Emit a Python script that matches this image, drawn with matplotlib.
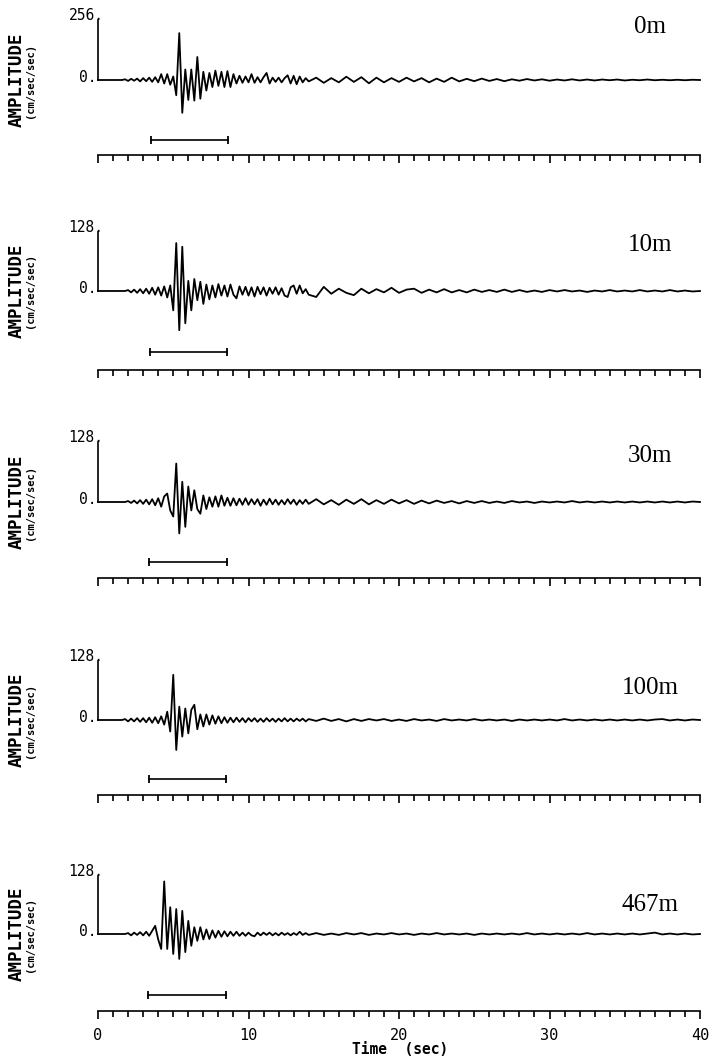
import numpy as np
import matplotlib.pyplot as plt

# -------------------------------
# Data
# -------------------------------
# sample times (sec): dense part of the record and the coda
t_fast = np.round(np.arange(1.6, 14.01, 0.2), 1)   # 63 samples
t_slow = np.arange(14.5, 40.01, 0.5)                # 52 samples

depths = ["0m", "10m", "30m", "100m", "467m"]
full_scale = [256, 128, 128, 128, 128]
bar_start = [3.5, 3.45, 3.4, 3.4, 3.35]
bar_end = [8.65, 8.6, 8.55, 8.5, 8.5]
time_ticks = [0, 10, 20, 30, 40]

amp_0m_fast = [0, 3,
               -4, 5, -3, 6, -6,
               8, -5, 10, -8, 12,
               -10, 25, -15, 25, -20,
               15, -65, 200, -140, 45,
               -85, 45, -88, 98, -80,
               35, -45, 30, -30, 40,
               -25, 35, -30, 38, -30,
               25, -15, 18, -12, 15,
               -10, 25, -12, 12, -10,
               12, 30, -15, 10, -8,
               10, -10, 8, 20, -15,
               18, -18, 15, -10, 8,
               -6]
amp_0m_slow = [10, -12, 8, -10, 14, -8, 12, -14, 10, -10,
               8, -8, 10, -6, 8, -10, 6, -8, 10, -6,
               5, -5, 6, -4, 4, -5, 3, -3, 4, -2,
               3, -3, 2, -2, 3, -2, 2, -2, 2, -1,
               2, -2, 1, -1, 2, -1, 1, -1, 1, -1,
               1, 0]

amp_10m_fast = [0, 0,
                2, -3, 3, -4, 4,
                -5, 5, -6, 7, -8,
                8, -10, 10, -14, 12,
                -42, 104, -85, 96, -70,
                22, -42, 26, -20, 20,
                -28, 14, -18, 12, -14,
                15, -10, 12, -12, 14,
                -8, -16, 10, -8, 9,
                -10, 8, -12, 9, -7,
                8, -10, 7, -6, 8,
                -8, 6, -10, -13, 8,
                12, -6, 12, -5, 4,
                -8]
amp_10m_slow = [-13, 9, -6, 5, -4, -9, 5, -5, 4, -3,
                7, -4, 3, 5, -4, 3, -3, 4, -3, 2,
                -3, 3, -2, 2, -2, 3, -2, 2, -2, 1,
                -2, 2, -1, 2, -1, 1, -2, 1, -1, 2,
                -1, 1, -1, 2, -1, 1, -1, 2, -1, 1,
                -1, 0]

amp_30m_fast = [0, 0,
                2, -2, 3, -3, 4,
                -4, 5, -5, 6, -7,
                8, -10, 12, 18, -18,
                -31, 82, -67, 43, -53,
                33, -18, 25, -15, -25,
                14, -15, 10, -10, 12,
                -10, 14, -8, 9, -8,
                8, -7, 7, -6, 8,
                -6, 6, -5, 6, -8,
                5, -6, 7, -5, 5,
                -6, 4, -5, 6, -4,
                5, -6, 4, -4, 5,
                -4]
amp_30m_slow = [6, -5, 4, -6, 5, -4, 6, -5, 4, -4,
                5, -3, 4, -4, 3, -3, 3, -2, 2, -3,
                2, -2, 2, -2, 1, -2, 2, -1, 1, -2,
                1, -1, 1, -1, 2, -1, 1, -1, 1, -1,
                1, -1, 1, -1, 1, -1, 1, -1, 1, -1,
                1, 0]

amp_100m_fast = [0, 2,
                 -3, 3, -3, 4, -4,
                 4, -5, 5, -6, 6,
                 -7, 8, -10, 18, -25,
                 98, -65, 29, -36, 25,
                 -29, 22, 33, -20, 12,
                 -14, 12, -10, 10, -8,
                 8, -7, 6, -6, 5,
                 -5, 5, -4, 4, -5,
                 4, -3, 4, -4, 3,
                 -4, 4, -3, 3, -4,
                 3, -3, 4, -3, 3,
                 -3, 3, -2, 3, -3,
                 2]
amp_100m_slow = [-2, 3, -2, 2, -3, 2, -2, 2, -1, 2,
                 -2, 1, -2, 2, -1, 1, -2, 2, -1, 1,
                 -1, 2, -1, 1, -1, 1, -2, 1, -1, 1,
                 -1, 1, -1, 2, -1, 1, -1, 1, -1, 1,
                 -1, 1, -1, 1, -1, 1, 2, -1, 1, -1,
                 1, 0]

amp_467m_fast = [0, 0,
                 2, -3, 3, -2, 4,
                 -3, 5, -4, 7, 18,
                 -12, -33, 116, -33, 59,
                 -44, 55, -55, 51, -40,
                 29, -26, 15, -15, 15,
                 -12, 10, -11, 8, -8,
                 7, -6, 6, -5, 5,
                 -4, 5, -4, 3, -4,
                 3, -3, -5, 3, -3,
                 3, -2, 3, -3, 2,
                 -3, 3, -2, 2, -3,
                 2, -2, 5, -2, 2,
                 -2]
amp_467m_slow = [2, -2, 1, -2, 2, -1, 2, -2, 1, -1,
                 2, -1, 1, -2, 1, -1, 2, -1, 1, -1,
                 1, -2, 1, -1, 1, -1, 1, -1, 2, -1,
                 1, -1, 1, -1, 1, -1, 2, -1, 1, -1,
                 1, -1, 1, -1, 1, 3, -1, 1, -1, 1,
                 -1, 0]

fast = [amp_0m_fast, amp_10m_fast, amp_30m_fast, amp_100m_fast, amp_467m_fast]
slow = [amp_0m_slow, amp_10m_slow, amp_30m_slow, amp_100m_slow, amp_467m_slow]

# -------------------------------
# Layout (pixels): axis top, zero line, scale bar, time axis, depth label
# -------------------------------
W, H = 723, 1062
X0, X1 = 98, 700
panels = [(20, 80, 140, 155, 27),
          (232, 291, 352, 370, 245),
          (442, 502, 562, 578, 456),
          (661, 720, 779, 795, 688),
          (876, 934, 995, 1011, 905)]

mono = "DejaVu Sans Mono"
fig = plt.figure(figsize=(W / 100, H / 100), dpi=100)

for i, (top, zero, bar, tick, lab) in enumerate(panels):
    ax = fig.add_axes([X0 / W, 1 - tick / H, (X1 - X0) / W, (tick - top) / H])
    upp = full_scale[i] / (zero - top)
    ax.set_xlim(0, 40)
    ax.set_ylim(-(tick - zero) * upp, full_scale[i])

    t = np.concatenate([[0.0], t_fast, t_slow])
    a = np.concatenate([[0.0], fast[i], slow[i]])
    ax.plot(t, a, color="black", lw=1.3, clip_on=False)

    # scale bar
    yb = -(bar - zero) * upp
    ax.plot([bar_start[i], bar_end[i]], [yb, yb], color="black", lw=1.2,
            marker="|", markersize=6, mew=1.3)

    for s in ["top", "right"]:
        ax.spines[s].set_visible(False)
    ax.spines["left"].set_bounds(0, full_scale[i])
    ax.spines["left"].set_linewidth(1.2)
    ax.spines["bottom"].set_linewidth(1.2)
    ax.set_yticks([])

    ax.annotate(f"{full_scale[i]}.", xy=(0, full_scale[i]), xytext=(4, 3.5),
                textcoords="offset points", ha="right", va="center",
                family=mono, fontsize=10.5)
    ax.annotate("0.", xy=(0, 0), xytext=(-1, 1.5), textcoords="offset points",
                ha="right", va="center", family=mono, fontsize=10.5)

    ax.set_xticks(time_ticks)
    ax.set_xticks(range(41), minor=True)
    ax.tick_params(which="major", direction="out", length=6, width=1.2, pad=6)
    ax.tick_params(which="minor", direction="out", length=4.5, width=1.2)
    if i == len(panels) - 1:
        ax.set_xticklabels([str(v) for v in time_ticks], family=mono, fontsize=11)
    else:
        ax.set_xticklabels([])

    fig.text(17 / W, 1 - zero / H, "AMPLITUDE", rotation=90, ha="center",
             va="center", family=mono, fontweight="bold", fontsize=12.5)
    fig.text(30 / W, 1 - zero / H, "(cm/sec/sec)", rotation=90, ha="center",
             va="center", family=mono, fontweight="bold", fontsize=7.5)
    fig.text(650 / W, 1 - lab / H, depths[i], ha="center", va="center",
             family="Liberation Serif", fontsize=18)

fig.text(400 / W, 1 - 1050 / H, "Time  (sec)", ha="center", va="center",
         family=mono, fontweight="bold", fontsize=10.5)

fig.savefig("out.png", dpi=100)
